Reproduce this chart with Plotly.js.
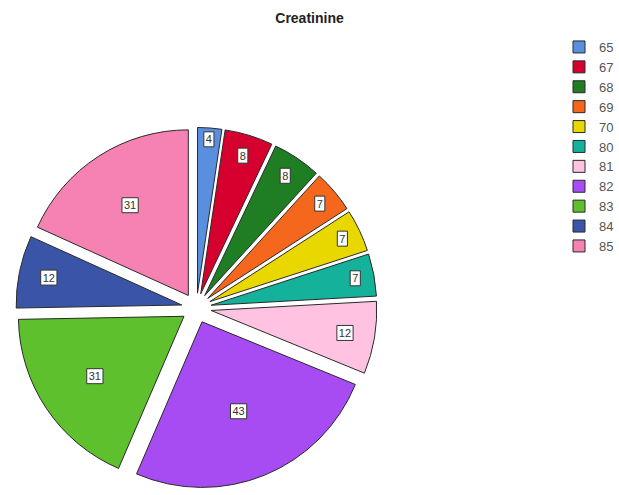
<!DOCTYPE html>
<html>
<head>
<meta charset="utf-8">
<script src="https://cdn.plot.ly/plotly-3.0.1.min.js"></script>
<style>html,body{margin:0;padding:0;background:#fff;}#chart{width:619px;height:495px;}</style>
</head>
<body>
<div id="chart"></div>
<script>
const categories = ["65", "67", "68", "69", "70", "80", "81", "82", "83", "84", "85"];
const counts = [4, 8, 8, 7, 7, 7, 12, 43, 31, 12, 31];
const sliceColors = ["#5a8fe0", "#d6002e", "#1f7d24", "#f5671c", "#e8d800", "#14b29a", "#ffc2e0", "#a64cf2", "#5dc02c", "#3a55a8", "#f582b2"];
const explode = 0.09;

const W = 619, H = 495;
const trace = {
  type: "pie",
  labels: categories,
  values: counts,
  sort: false,
  direction: "clockwise",
  rotation: 0,
  pull: explode,
  marker: {colors: sliceColors, line: {color: "#2a2a2a", width: 1}},
  texttemplate: "%{value}",
  textposition: "inside",
  insidetextorientation: "horizontal",
  textfont: {family: "Arial, Liberation Sans, sans-serif", size: 11, color: "#333"},
  hoverinfo: "label+value",
  domain: {x: [16 / W, 380 / W], y: [5 / H, 369 / H]}
};

const layout = {
  width: W, height: H,
  margin: {l: 0, r: 0, t: 0, b: 0},
  paper_bgcolor: "#fff",
  title: {text: "Creatinine", font: {family: "Arial, Liberation Sans, sans-serif", size: 14, color: "#222", weight: "bold"}, x: 0.5, xanchor: "center", y: 1 - 18 / H, yanchor: "middle"},
  showlegend: true,
  legend: {x: 564 / W, xanchor: "left", y: 1 - 32 / H, yanchor: "top", font: {family: "Arial, Liberation Sans, sans-serif", size: 13, color: "#555"}, bgcolor: "rgba(0,0,0,0)", itemwidth: 30}
};

function boxLabels() {
  document.querySelectorAll("g.slice").forEach(function (g) {
    const t = g.querySelector("text.slicetext");
    if (!t) return;
    const old = g.querySelector("rect.lblbox");
    if (old) old.remove();
    const bb = t.getBBox();
    const r = document.createElementNS("http://www.w3.org/2000/svg", "rect");
    r.setAttribute("class", "lblbox");
    r.setAttribute("x", bb.x - 2);
    r.setAttribute("y", bb.y - 1.5);
    r.setAttribute("width", bb.width + 4);
    r.setAttribute("height", bb.height + 3);
    r.setAttribute("fill", "#fff");
    r.setAttribute("stroke", "#333");
    r.setAttribute("stroke-width", "1");
    const tr = t.getAttribute("transform");
    if (tr) r.setAttribute("transform", tr);
    t.parentNode.insertBefore(r, t);
  });
}

Plotly.newPlot("chart", [trace], layout, {displayModeBar: false, staticPlot: true}).then(boxLabels);
</script>
</body>
</html>
